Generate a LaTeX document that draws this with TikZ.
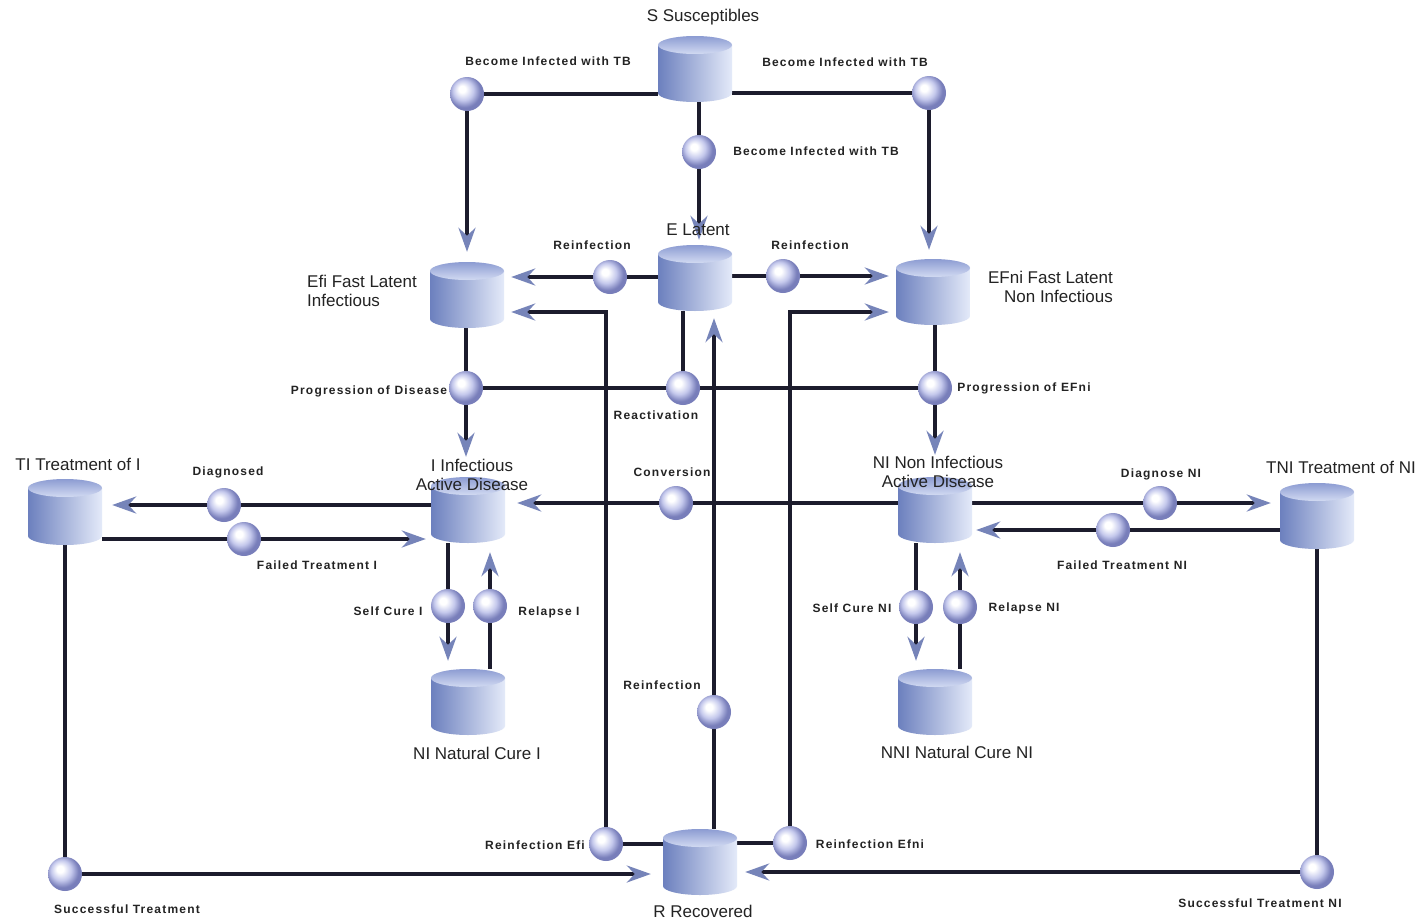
\documentclass[tikz,border=0pt]{standalone}
\usepackage{fontspec}
\setmainfont{Liberation Sans}
\newfontfamily\flowfont[LetterSpace=10]{Liberation Sans}
\usetikzlibrary{arrows.meta,calc}
\definecolor{linec}{RGB}{28,28,45}
\definecolor{arrc}{RGB}{118,132,185}
\definecolor{cylL}{RGB}{108,128,190}
\definecolor{cylM}{RGB}{168,184,226}
\definecolor{cylR}{RGB}{228,234,249}
\definecolor{topA}{RGB}{140,156,210}
\definecolor{topB}{RGB}{210,218,242}
\definecolor{sphA}{RGB}{196,200,236}
\definecolor{sphB}{RGB}{120,126,186}
\definecolor{txt}{RGB}{35,35,35}
\pgfdeclareradialshading{sph}{\pgfqpoint{-8bp}{8bp}}{color(0bp)=(white); color(5bp)=(white); color(15bp)=(sphA); color(24bp)=(sphB); color(50bp)=(sphB)}
\pgfdeclarelayer{bg}
\pgfsetlayers{bg,main}
\tikzset{
  stocknode/.style={rectangle,draw=none,inner sep=0pt,minimum width=74pt,minimum height=66pt},
  flownode/.style={circle,inner sep=0pt,minimum size=34pt,shading=sph},
  pipe/.style={draw=linec,line width=3.5pt},
  flowarrow/.style={-{Stealth[length=24pt,width=17pt,inset=8pt,color=arrc]}},
  stocklabel/.style={font=\fontsize{17}{19}\selectfont,text=txt,inner sep=0pt},
  flowlabel/.style={font=\flowfont\bfseries\fontsize{12}{14}\selectfont,text=txt,inner sep=0pt},
}
\newcommand\stock[3]{%
  \node[stocknode] (#1) at (#2,#3) {};
  \shade[left color=cylL,middle color=cylM,right color=cylR]
    ($(#1.center)+(-37,-24)$) -- ($(#1.center)+(-37,24)$)
    arc[start angle=180,end angle=0,x radius=37,y radius=9]
    -- ($(#1.center)+(37,-24)$) -- cycle;
  \shade[top color=topA,bottom color=topB]
    ($(#1.center)+(0,-24)$) ellipse[x radius=37,y radius=9];
}
\begin{document}
\begin{tikzpicture}[x=1pt,y=-1pt]
\useasboundingbox (0,0) rectangle (1425,921);
\begin{pgfonlayer}{bg}
\fill[white] (0,0) rectangle (1425,921);
\end{pgfonlayer}
% stocks
\stock{S}{695}{69}
\stock{E}{695}{278}
\stock{Efi}{467}{295}
\stock{EFni}{933}{292}
\stock{I}{468}{510}
\stock{NI}{935}{510}
\stock{TI}{65}{512}
\stock{TNI}{1317}{516}
\stock{NCI}{468}{702}
\stock{NNCI}{935}{702}
\stock{R}{700}{862}
% flows
\node[flownode] (b1) at (467,94) {};
\node[flownode] (b2) at (929,93) {};
\node[flownode] (b3) at (699,152) {};
\node[flownode] (b4) at (610,277) {};
\node[flownode] (b5) at (783,276) {};
\node[flownode] (b6) at (606,844) {};
\node[flownode] (b7) at (790,843) {};
\node[flownode] (b8) at (714,712) {};
\node[flownode] (b9) at (466,388) {};
\node[flownode] (b10) at (935,388) {};
\node[flownode] (b11) at (683,388) {};
\node[flownode] (b12) at (676,503) {};
\node[flownode] (b13) at (224,505) {};
\node[flownode] (b14) at (244,539) {};
\node[flownode] (b15) at (448,606) {};
\node[flownode] (b16) at (490,606) {};
\node[flownode] (b17) at (1160,503) {};
\node[flownode] (b18) at (1113,530) {};
\node[flownode] (b19) at (916,607) {};
\node[flownode] (b20) at (960,607) {};
\node[flownode] (b21) at (65,874) {};
\node[flownode] (b22) at (1317,872) {};
\coordinate (c6) at (606,312);
\coordinate (c7) at (790,312);
% connectors
\begin{pgfonlayer}{bg}
\draw[pipe] (b1 -| S.west) -- (b1);
\draw[pipe,flowarrow,shorten >=10pt] (b1) -- (b1 |- Efi.north);
\draw[pipe] (S.east |- b2) -- (b2);
\draw[pipe,flowarrow,shorten >=9pt] (b2) -- (b2 |- EFni.north);
\draw[pipe] (b3 |- S.south) -- (b3);
\draw[pipe,flowarrow,shorten >=5pt] (b3) -- (b3 |- E.north);
\draw[pipe] (E.west |- b4) -- (b4);
\draw[pipe,flowarrow,shorten >=7pt] (b4) -- (Efi.east |- b4);
\draw[pipe] (E.east |- b5) -- (b5);
\draw[pipe,flowarrow,shorten >=7pt] (b5) -- (EFni.west |- b5);
\draw[pipe] (R.west |- b6) -- (b6);
\draw[pipe,flowarrow,shorten >=7pt] (b6) -- (c6) -- (c6 -| Efi.east);
\draw[pipe] (R.east |- b7) -- (b7);
\draw[pipe,flowarrow,shorten >=7pt] (b7) -- (c7) -- (c7 -| EFni.west);
\draw[pipe] (b8 |- R.north) -- (b8);
\draw[pipe,flowarrow,shorten >=7pt] (b8) -- (b8 |- E.south);
\draw[pipe] (b9 |- Efi.south) -- (b9);
\draw[pipe,flowarrow,shorten >=20pt] (b9) -- (b9 |- I.north);
\draw[pipe] (b10 |- EFni.south) -- (b10);
\draw[pipe,flowarrow,shorten >=22pt] (b10) -- (b10 |- NI.north);
\draw[pipe] (b9) -- (b10);
\draw[pipe] (b11 |- E.south) -- (b11);
\draw[pipe] (NI.west |- b12) -- (b12);
\draw[pipe,flowarrow,shorten >=12pt] (b12) -- (I.east |- b12);
\draw[pipe] (I.west |- b13) -- (b13);
\draw[pipe,flowarrow,shorten >=10pt] (b13) -- (TI.east |- b13);
\draw[pipe] (TI.east |- b14) -- (b14);
\draw[pipe,flowarrow,shorten >=5pt] (b14) -- (I.west |- b14);
\draw[pipe] (b15 |- I.south) -- (b15);
\draw[pipe,flowarrow,shorten >=8pt] (b15) -- (b15 |- NCI.north);
\draw[pipe] (b16 |- NCI.north) -- (b16);
\draw[pipe,flowarrow,shorten >=9pt] (b16) -- (b16 |- I.south);
\draw[pipe] (NI.east |- b17) -- (b17);
\draw[pipe,flowarrow,shorten >=9pt] (b17) -- (TNI.west |- b17);
\draw[pipe] (TNI.west |- b18) -- (b18);
\draw[pipe,flowarrow,shorten >=4pt] (b18) -- (NI.east |- b18);
\draw[pipe] (b19 |- NI.south) -- (b19);
\draw[pipe,flowarrow,shorten >=8pt] (b19) -- (b19 |- NNCI.north);
\draw[pipe] (b20 |- NNCI.north) -- (b20);
\draw[pipe,flowarrow,shorten >=9pt] (b20) -- (b20 |- NI.south);
\draw[pipe] (b21 |- TI.south) -- (b21);
\draw[pipe,flowarrow,shorten >=12pt] (b21) -- (R.west |- b21);
\draw[pipe] (b22 |- TNI.south) -- (b22);
\draw[pipe,flowarrow,shorten >=8pt] (b22) -- (R.east |- b22);
\end{pgfonlayer}
% stock labels
\node[stocklabel] (tS) at (703,17) {S Susceptibles};
\node[stocklabel] (tE) at (698,230) {E Latent};
\node[stocklabel,align=left,anchor=west] (tEfi) at (307,291) {Efi Fast Latent\\Infectious};
\node[stocklabel,align=right,anchor=east] (tEFni) at (1113,287) {EFni Fast Latent\\Non Infectious};
\node[stocklabel,align=center] (tI) at (472,475) {I Infectious\\Active Disease};
\node[stocklabel,align=center] (tNI) at (938,472) {NI Non Infectious\\Active Disease};
\node[stocklabel] (tTI) at (78,464) {TI Treatment of I};
\node[stocklabel] (tTNI) at (1341,467) {TNI Treatment of NI};
\node[stocklabel] (tNCI) at (477,753) {NI Natural Cure I};
\node[stocklabel] (tNNCI) at (957,752) {NNI Natural Cure NI};
\node[stocklabel] (tR) at (703,911) {R Recovered};
% flow labels
\node[flowlabel] (l1) at (548,61) {Become Infected with TB};
\node[flowlabel] (l2) at (845,62) {Become Infected with TB};
\node[flowlabel] (l3) at (816,151) {Become Infected with TB};
\node[flowlabel] (l4) at (592,245) {Reinfection};
\node[flowlabel] (l5) at (810,245) {Reinfection};
\node[flowlabel] (l9) at (369,391) {Progression of Disease};
\node[flowlabel] (l11) at (656,415) {Reactivation};
\node[flowlabel] (l10) at (1024,388) {Progression of EFni};
\node[flowlabel] (l12) at (672,472) {Conversion};
\node[flowlabel] (l13) at (228,472) {Diagnosed};
\node[flowlabel] (l14) at (317,565) {Failed Treatment I};
\node[flowlabel] (l15) at (388,611) {Self Cure I};
\node[flowlabel] (l16) at (549,612) {Relapse I};
\node[flowlabel] (l17) at (1161,474) {Diagnose NI};
\node[flowlabel] (l18) at (1122,565) {Failed Treatment NI};
\node[flowlabel] (l19) at (852,608) {Self Cure NI};
\node[flowlabel] (l20) at (1024,608) {Relapse NI};
\node[flowlabel] (l8) at (662,685) {Reinfection};
\node[flowlabel] (l6) at (535,845) {Reinfection Efi};
\node[flowlabel] (l7) at (870,844) {Reinfection Efni};
\node[flowlabel] (l21) at (127,909) {Successful Treatment};
\node[flowlabel] (l22) at (1260,903) {Successful Treatment NI};
\end{tikzpicture}
\end{document}
